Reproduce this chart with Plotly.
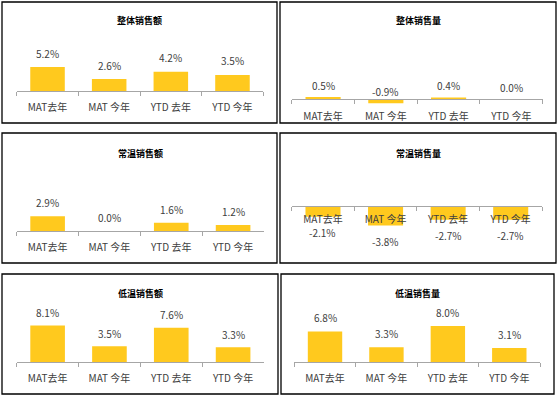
import plotly.graph_objects as go

# ---------------- data ----------------
categories = ["MAT去年", "MAT 今年", "YTD 去年", "YTD 今年"]
titles = ["整体销售额", "整体销售量", "常温销售额", "常温销售量", "低温销售额", "低温销售量"]
total_sales_value = [5.2, 2.6, 4.2, 3.5]
total_sales_volume = [0.5, -0.9, 0.4, 0.0]
ambient_sales_value = [2.9, 0.0, 1.6, 1.2]
ambient_sales_volume = [-2.1, -3.8, -2.7, -2.7]
chilled_sales_value = [8.1, 3.5, 7.6, 3.3]
chilled_sales_volume = [6.8, 3.3, 8.0, 3.1]

series = [total_sales_value, total_sales_volume,
          ambient_sales_value, ambient_sales_volume,
          chilled_sales_value, chilled_sales_volume]

# ---------------- layout (pixels) ----------------
W, H = 559, 399
boxes = [(2, 2, 277, 123), (280, 2, 556, 123),
         (2, 133, 277, 263), (280, 133, 556, 263),
         (2, 274, 278, 394), (281, 274, 554, 394)]
axis_x = [(16.7, 263.3), (291.7, 542.7), (16.7, 264), (291.7, 542), (16.7, 264), (294.3, 540)]
axis_y = [91, 99.3, 231, 206, 362, 362]
px_per_unit = [4.6, 4.4, 5.1, 5.1, 4.5, 4.5]
title_pos = [(139, 20.7), (418, 20.7), (140, 153.3), (418.7, 153.3), (140, 293.7), (417, 293.7)]
label_shift = [14, 12, 13.5, -16, 13, 13.5]
tick_standoff = [7, 8, 7, 4, 7, 7]

BAR = "#FFC91E"
AXIS = "#A6A6A6"
TXT = "#404040"
FONT = "Noto Sans CJK SC"

fig = go.Figure()
layout = dict(width=W, height=H, margin=dict(l=0, r=0, t=0, b=0),
              paper_bgcolor="white", plot_bgcolor="rgba(0,0,0,0)",
              showlegend=False, font=dict(family=FONT, size=10, color=TXT))
annotations = []
shapes = []

for i, vals in enumerate(series):
    n = i + 1
    xa = "x" if n == 1 else f"x{n}"
    ya = "y" if n == 1 else f"y{n}"
    bx0, by0, bx1, by1 = boxes[i]
    top, bot = by0 + 2, by1 - 2
    ay = axis_y[i]
    s = px_per_unit[i]
    ymax = (ay - top) / s
    ymin = -(bot - ay) / s

    fig.add_trace(go.Bar(x=categories, y=vals, xaxis=xa, yaxis=ya,
                         marker=dict(color=BAR, line=dict(width=0)),
                         width=0.56, hoverinfo="skip"))

    layout["xaxis" if n == 1 else f"xaxis{n}"] = dict(
        domain=[axis_x[i][0] / W, axis_x[i][1] / W],
        anchor="free", position=1 - ay / H,
        type="category", range=[-0.5, 3.5],
        showline=True, linecolor=AXIS, linewidth=1,
        ticks="outside", tickson="boundaries", ticklen=4, tickcolor=AXIS, tickwidth=1,
        ticklabelstandoff=tick_standoff[i],
        tickfont=dict(size=10, color=TXT, family=FONT),
        showgrid=False, zeroline=False, fixedrange=True)
    layout["yaxis" if n == 1 else f"yaxis{n}"] = dict(
        domain=[1 - bot / H, 1 - top / H], anchor=xa,
        range=[ymin, ymax], visible=False, showgrid=False, zeroline=False,
        fixedrange=True)

    for c, v in zip(categories, vals):
        annotations.append(dict(x=c, y=v, xref=xa, yref=ya, text=f"{v:.1f}%",
                                showarrow=False, yshift=label_shift[i],
                                xanchor="center", yanchor="middle",
                                font=dict(size=10, color=TXT, family=FONT)))

    tx, ty = title_pos[i]
    annotations.append(dict(x=tx / W, y=1 - ty / H, xref="paper", yref="paper",
                            text=f"<b>{titles[i]}</b>", showarrow=False,
                            xanchor="center", yanchor="middle",
                            font=dict(size=9, color="#000000", family=FONT)))

    shapes.append(dict(type="rect", xref="paper", yref="paper",
                       x0=bx0 / W, x1=bx1 / W, y0=1 - by1 / H, y1=1 - by0 / H,
                       line=dict(color="#000000", width=1.3), fillcolor="rgba(0,0,0,0)"))

layout["annotations"] = annotations
layout["shapes"] = shapes
fig.update_layout(**layout)
fig.write_html("out.html", config={"displayModeBar": False},
               post_script="document.body.style.margin='0';document.body.style.overflow='hidden';")
